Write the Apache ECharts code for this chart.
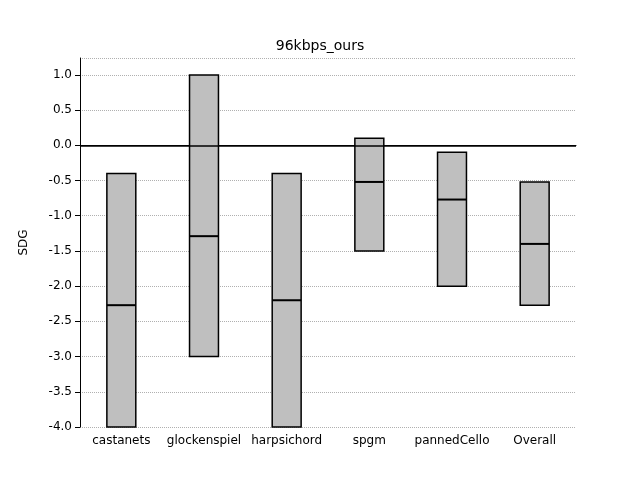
<!DOCTYPE html>
<html>
<head>
<meta charset="utf-8">
<script src="https://cdn.jsdelivr.net/npm/echarts@6/dist/echarts.min.js"></script>
</head>
<body style="margin:0">
<div id="main" style="width:640px;height:480px"></div>
<script>
var categories = ['castanets', 'glockenspiel', 'harpsichord', 'spgm', 'pannedCello', 'Overall'];
var lows = [-4.0, -3.0, -4.0, -1.5, -2.0, -2.27];
var highs = [-0.4, 1.0, -0.4, 0.1, -0.1, -0.52];
var medians = [-2.27, -1.29, -2.2, -0.52, -0.77, -1.4];

var data = categories.map(function (c, i) { return [i, lows[i], highs[i], medians[i]]; });

var chart = echarts.init(document.getElementById('main'));
chart.setOption({
    animation: false,
    title: { text: '96kbps_ours', left: 'center', top: 34, textStyle: { fontFamily: 'DejaVu Sans', fontSize: 14, fontWeight: 'normal', color: '#000' } },
    grid: { left: 80, right: 64, top: 58, bottom: 53 },
    xAxis: {
        type: 'category', data: categories,
        axisLine: { lineStyle: { color: '#000' } },
        axisTick: { alignWithLabel: true, lineStyle: { color: '#000' } },
        axisLabel: { color: '#000', fontFamily: 'DejaVu Sans', fontSize: 12, interval: 0 }
    },
    yAxis: {
        type: 'value', min: -4, max: 1.24, interval: 0.5, name: 'SDG', nameLocation: 'middle', nameGap: 50,
        nameTextStyle: { color: '#000', fontFamily: 'DejaVu Sans', fontSize: 12 },
        axisLine: { show: true, lineStyle: { color: '#000' } },
        axisTick: { show: true, lineStyle: { color: '#000' } },
        axisLabel: { color: '#000', fontFamily: 'DejaVu Sans', fontSize: 12, formatter: function (v) { return v.toFixed(1); }, showMaxLabel: false },
        splitLine: { lineStyle: { type: 'dotted', color: '#b0b0b0' } }
    },
    series: [{
        type: 'custom',
        data: data,
        renderItem: function (params, api) {
            var i = api.value(0);
            var lo = api.coord([i, api.value(1)]);
            var hi = api.coord([i, api.value(2)]);
            var md = api.coord([i, api.value(3)]);
            var w = api.size([1, 0])[0] * 0.35;
            return {
                type: 'group',
                children: [
                    { type: 'rect', shape: { x: lo[0] - w / 2, y: hi[1], width: w, height: lo[1] - hi[1] },
                      style: { fill: '#bfbfbf', stroke: '#000', lineWidth: 1.5 } },
                    { type: 'line', shape: { x1: lo[0] - w / 2, y1: md[1], x2: lo[0] + w / 2, y2: md[1] },
                      style: { stroke: '#000', lineWidth: 2 } }
                ]
            };
        },
        markLine: {
            silent: true, symbol: 'none', label: { show: false },
            lineStyle: { color: '#000', type: 'solid', width: 1.5 },
            data: [{ yAxis: 0 }]
        },
        z: 3
    }]
});
</script>
</body>
</html>
